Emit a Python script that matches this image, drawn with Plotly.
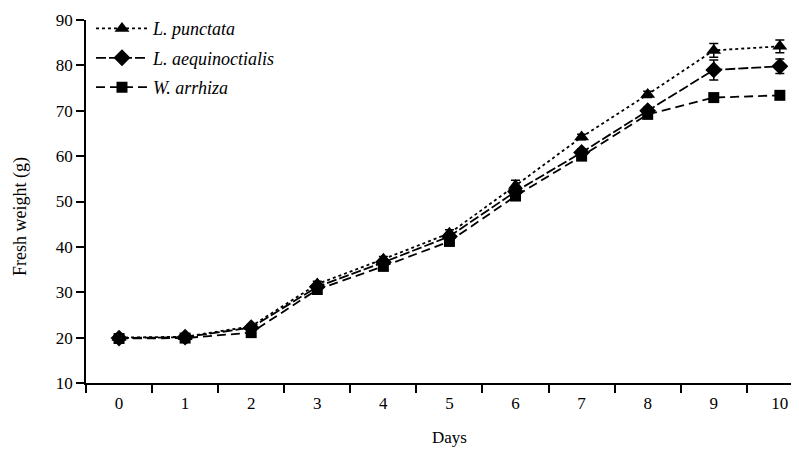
import plotly.graph_objects as go

days = ["0", "1", "2", "3", "4", "5", "6", "7", "8", "9", "10"]
series_names = ["L. punctata", "L. aequinoctialis", "W. arrhiza"]
punctata = [20.0, 20.2, 22.5, 31.8, 37.3, 43.0, 53.5, 64.2, 73.6, 83.3, 84.2]
punctata_err = [0.3, 0.3, 0.4, 0.6, 0.6, 0.8, 1.2, 0.6, 0.7, 1.5, 1.4]
aequinoctialis = [19.9, 20.1, 22.2, 31.2, 36.6, 42.3, 52.2, 60.8, 70.0, 79.0, 79.8]
aequinoctialis_err = [0.3, 0.3, 0.4, 0.5, 0.5, 0.6, 0.8, 0.8, 0.8, 2.2, 1.6]
arrhiza = [19.8, 19.9, 21.1, 30.6, 35.7, 41.2, 51.2, 60.0, 69.2, 72.9, 73.4]
arrhiza_err = [0.3, 0.3, 0.5, 0.5, 0.5, 0.5, 0.6, 0.6, 0.6, 0.6, 0.7]
y_ticks = [10, 20, 30, 40, 50, 60, 70, 80, 90]

FONT = "Liberation Serif"

styles = [
    dict(symbol="triangle-up", size=13, dash="dot"),
    dict(symbol="diamond", size=13, dash="10px,3px"),
    dict(symbol="square", size=11, dash="9px,5px"),
]
values = [punctata, aequinoctialis, arrhiza]
errors = [punctata_err, aequinoctialis_err, arrhiza_err]

fig = go.Figure()
for i, (name, vals, errs, st) in enumerate(zip(series_names, values, errors, styles)):
    fig.add_trace(go.Scatter(
        x=days, y=vals, name=f"<i>{name}</i>",
        mode="lines+markers",
        legendgroup=f"g{i}",
        line=dict(color="black", width=1.8, dash=st["dash"]),
        marker=dict(symbol=st["symbol"], size=st["size"], color="black"),
        error_y=dict(type="data", array=errs, visible=True, color="black",
                     thickness=1.5, width=4.5),
    ))

fig.update_layout(
    width=791, height=441, autosize=False,
    margin=dict(l=78, r=0, t=12, b=66),
    plot_bgcolor="white", paper_bgcolor="white",
    font=dict(family=FONT, size=17, color="black"),
    showlegend=True,
    legend=dict(x=0.007, y=1.027, xanchor="left", yanchor="top",
                bgcolor="rgba(0,0,0,0)", font=dict(family=FONT, size=18),
                itemwidth=52, tracegroupgap=3),
    xaxis=dict(type="category", categoryorder="array", categoryarray=days,
               range=[-0.5, 10.29], tickson="boundaries",
               showline=True, linecolor="black", linewidth=1.8,
               ticks="outside", ticklen=8, tickwidth=1.5, tickcolor="black",
               ticklabelstandoff=4,
               showgrid=False, zeroline=False),
    yaxis=dict(range=[10, 90], tickvals=y_ticks,
               showline=True, linecolor="black", linewidth=1.8,
               ticks="outside", ticklen=8, tickwidth=1.5, tickcolor="black",
               showgrid=False, zeroline=False),
    annotations=[
        dict(text="Days", x=0.51, y=-0.151, xref="paper", yref="paper",
             showarrow=False, xanchor="center", yanchor="middle",
             font=dict(family=FONT, size=17)),
        dict(text="Fresh weight (g)", x=-0.0926, y=0.46, xref="paper", yref="paper",
             showarrow=False, xanchor="center", yanchor="middle", textangle=-90,
             font=dict(family=FONT, size=18)),
    ],
)

fig.write_html("out.html")
